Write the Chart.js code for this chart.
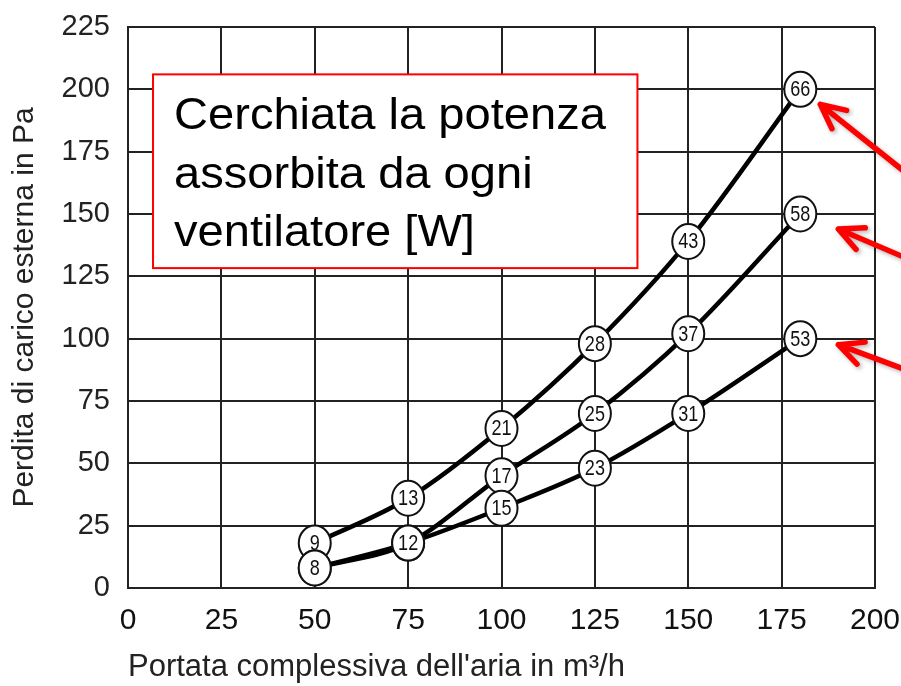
<!DOCTYPE html>
<html><head><meta charset="utf-8">
<script src="https://cdn.jsdelivr.net/npm/chart.js@4"></script>
<style>html,body{margin:0;padding:0;background:#fff}#wrap{width:901px;height:686px}</style>
</head><body><div id="wrap"><canvas id="c" width="901" height="686"></canvas></div>
<script>
const flowRates = [50, 75, 100, 125, 150, 180];
const pressureHigh = [18, 36, 64, 98, 139, 200];
const pressureMid = [8, 18, 45, 70, 102, 150];
const pressureLow = [8, 18, 32, 48, 70, 100];
const powerHigh = [9, 13, 21, 28, 43, 66];
const powerMid = [8, 12, 17, 25, 37, 58];
const powerLow = [8, 12, 15, 23, 31, 53];
const xTicks = [0, 25, 50, 75, 100, 125, 150, 175, 200];
const yTicks = [0, 25, 50, 75, 100, 125, 150, 175, 200, 225];
const noteLines = ["Cerchiata la potenza", "assorbita da ogni", "ventilatore [W]"];
const xTitle = "Portata complessiva dell'aria in m³/h";
const yTitle = "Perdita di carico esterna in Pa";

const mk = (ys) => flowRates.map((x, i) => ({x, y: ys[i]}));
const powers = [powerHigh, powerMid, powerLow];
const FONT = '"Liberation Sans", Arial, sans-serif';

const circlePlugin = {
  id: 'circles',
  afterDatasetsDraw(chart) {
    const ctx = chart.ctx;
    const xs = chart.scales.x, ys = chart.scales.y;
    ctx.save();
    const bx1 = xs.getPixelForValue(6.7), bx2 = xs.getPixelForValue(136.4);
    const by1 = ys.getPixelForValue(206), by2 = ys.getPixelForValue(128.3);
    ctx.fillStyle = '#fff';
    ctx.fillRect(bx1, by1, bx2 - bx1, by2 - by1);
    ctx.strokeStyle = '#ff0000';
    ctx.lineWidth = 2;
    ctx.strokeRect(bx1, by1, bx2 - bx1, by2 - by1);
    ctx.fillStyle = '#000';
    ctx.font = '44px ' + FONT;
    ctx.textBaseline = 'alphabetic';
    ctx.textAlign = 'left';
    noteLines.forEach((t, i) => {
      ctx.save();
      ctx.translate(bx1 + 21, by1 + 55 + i * 58.5);
      ctx.scale(1.07, 1);
      ctx.fillText(t, 0, 0);
      ctx.restore();
    });
    ctx.restore();

    chart.data.datasets.forEach((ds, di) => {
      const meta = chart.getDatasetMeta(di);
      meta.data.forEach((pt, i) => {
        ctx.save();
        ctx.beginPath();
        ctx.ellipse(pt.x, pt.y, 16, 17.5, 0, 0, Math.PI * 2);
        ctx.fillStyle = '#fff';
        ctx.fill();
        ctx.lineWidth = 2;
        ctx.strokeStyle = '#111';
        ctx.stroke();
        ctx.translate(pt.x, pt.y + 1);
        ctx.scale(0.82, 1);
        ctx.fillStyle = '#111';
        ctx.font = '22px ' + FONT;
        ctx.textAlign = 'center';
        ctx.textBaseline = 'middle';
        ctx.fillText(String(powers[di][i]), 0, 0);
        ctx.restore();
      });
    });
  },
  afterDraw(chart) {
    const ctx = chart.ctx;
    const tipOffsets = [[20, 15], [38, 15], [38, 6]];
    const dirs = [[80, 64], [70, 30], [70, 26]];
    chart.data.datasets.forEach((ds, di) => {
      const meta = chart.getDatasetMeta(di);
      const pt = meta.data[meta.data.length - 1];
      const tx = pt.x + tipOffsets[di][0], ty = pt.y + tipOffsets[di][1];
      const d = dirs[di];
      const len = Math.hypot(d[0], d[1]);
      const ux = d[0] / len, uy = d[1] / len;
      const tailX = tx + ux * 140, tailY = ty + uy * 140;
      ctx.save();
      ctx.shadowColor = 'rgba(0,0,0,0.3)';
      ctx.shadowBlur = 4;
      ctx.shadowOffsetX = 2;
      ctx.shadowOffsetY = 2;
      ctx.strokeStyle = '#ff0000';
      ctx.lineWidth = 5.5;
      ctx.lineCap = 'round';
      ctx.lineJoin = 'round';
      ctx.beginPath();
      ctx.moveTo(tailX, tailY);
      ctx.lineTo(tx, ty);
      const hl = 27, ang = 0.45;
      const a = Math.atan2(uy, ux);
      ctx.moveTo(tx + hl * Math.cos(a + ang), ty + hl * Math.sin(a + ang));
      ctx.lineTo(tx, ty);
      ctx.lineTo(tx + hl * Math.cos(a - ang), ty + hl * Math.sin(a - ang));
      ctx.stroke();
      ctx.restore();
    });
  }
};

const lineStyle = {
  borderColor: '#000', borderWidth: 4.5, pointRadius: 0, fill: false,
  cubicInterpolationMode: 'monotone'
};

new Chart(document.getElementById('c'), {
  type: 'line',
  data: {
    datasets: [
      Object.assign({label: 'A', data: mk(pressureHigh)}, lineStyle),
      Object.assign({label: 'B', data: mk(pressureMid)}, lineStyle),
      Object.assign({label: 'C', data: mk(pressureLow)}, lineStyle)
    ]
  },
  options: {
    responsive: false, animation: false, devicePixelRatio: 1,
    layout: {padding: {left: 7, top: 27, right: 26, bottom: 0}},
    plugins: {legend: {display: false}, tooltip: {enabled: false}},
    scales: {
      x: {
        type: 'linear', min: 0, max: 200,
        afterBuildTicks: (s) => { s.ticks = xTicks.map(v => ({value: v})); },
        afterFit: (s) => { s.height = 98; s.paddingLeft = 0; s.paddingRight = 0; },
        grid: {color: '#222', lineWidth: 2, drawTicks: false},
        border: {color: '#222', width: 2},
        ticks: {color: '#111', padding: 15, font: {family: FONT, size: 30}},
        title: {display: true, text: xTitle, align: 'start', color: '#222', padding: {top: 6, bottom: 0}, font: {family: FONT, size: 31}}
      },
      y: {
        min: 0, max: 225,
        afterBuildTicks: (s) => { s.ticks = yTicks.map(v => ({value: v})); },
        afterFit: (s) => { s.width = 121; s.paddingTop = 0; s.paddingBottom = 0; },
        grid: {color: '#222', lineWidth: 2, drawTicks: false},
        border: {color: '#222', width: 2},
        ticks: {color: '#222', padding: 18, font: {family: FONT, size: 29}},
        title: {display: true, text: yTitle, color: '#222', padding: {top: 0, bottom: 6}, font: {family: FONT, size: 30}}
      }
    }
  },
  plugins: [circlePlugin]
});
</script></body></html>
